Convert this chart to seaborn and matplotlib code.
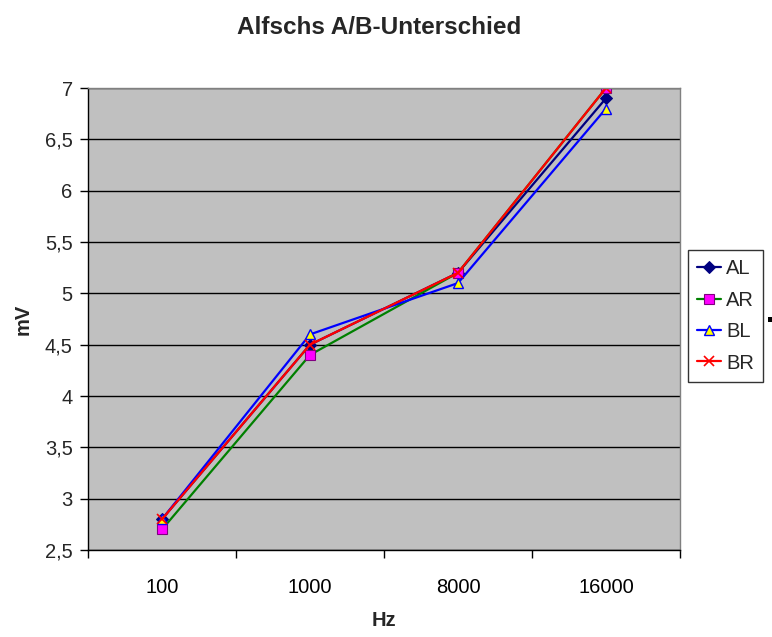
import matplotlib
matplotlib.use("Agg")
import matplotlib.pyplot as plt
import seaborn as sns
import pandas as pd
from matplotlib.patches import Rectangle
from matplotlib.ticker import FixedLocator

categories = ["100", "1000", "8000", "16000"]
AL = [2.8, 4.5, 5.2, 6.9]
AR = [2.7, 4.4, 5.2, 7.0]
BL = [2.8, 4.6, 5.1, 6.8]
BR = [2.8, 4.5, 5.2, 7.0]
series_names = ["AL", "AR", "BL", "BR"]
y_ticks = [2.5, 3, 3.5, 4, 4.5, 5, 5.5, 6, 6.5, 7]

sns.set_theme(style="white")
plt.rcParams["font.family"] = ["Liberation Sans", "DejaVu Sans"]

rows = []
for name, vals in zip(series_names, [AL, AR, BL, BR]):
    for c, v in zip(categories, vals):
        rows.append({"Hz": c, "mV": v, "series": name})
df = pd.DataFrame(rows)

styles = {
    "AL": dict(color="#000080", marker="D", markerfacecolor="#000080", markeredgecolor="#000080", markersize=6),
    "AR": dict(color="#008000", marker="s", markerfacecolor="#FF00FF", markeredgecolor="#800080", markersize=7, markeredgewidth=0.8),
    "BL": dict(color="#0000FF", marker="^", markerfacecolor="#FFFF00", markeredgecolor="#0000FF", markersize=7.5, markeredgewidth=1.0),
    "BR": dict(color="#FF0000", marker="x", markeredgecolor="#FF0000", markersize=7, markeredgewidth=1.2),
}

fig = plt.figure(figsize=(7.72, 6.37), dpi=100)
fig.patch.set_facecolor("white")
ax = fig.add_axes([88/772, 87/637, 592/772, 462/637])
ax.set_facecolor("#C0C0C0")

for name in series_names:
    sub = df[df["series"] == name]
    sns.lineplot(data=sub, x="Hz", y="mV", ax=ax, sort=False, linewidth=1.6,
                 label=name, **styles[name])

ax.set_xlim(-0.5, 3.5)
ax.set_ylim(2.5, 7)
ax.set_yticks(y_ticks)
ax.set_yticklabels([("%g" % t).replace(".", ",") for t in y_ticks], fontsize=14.5)
ax.set_xticks(range(len(categories)))
ax.set_xticklabels(categories, fontsize=14.5)
ax.xaxis.set_minor_locator(FixedLocator([-0.5, 0.5, 1.5, 2.5, 3.5]))
ax.tick_params(axis="x", which="major", length=0, pad=20, colors="black")
ax.tick_params(axis="x", which="minor", length=6, width=1, color="black", direction="out", bottom=True)
ax.tick_params(axis="y", which="major", length=6, width=1, color="black", direction="out", left=True, pad=5)
ax.grid(False)
for t in y_ticks:
    ax.axhline(t, color="black", linewidth=1, zorder=0.5)

ax.spines["left"].set_color("black")
ax.spines["bottom"].set_color("black")
ax.spines["top"].set_color("#808080")
ax.spines["right"].set_color("#808080")
for s in ax.spines.values():
    s.set_linewidth(1)

ax.set_xlabel("Hz", fontsize=14.5, fontweight="bold", labelpad=10)
ax.set_ylabel("mV", fontsize=14.5, fontweight="bold", labelpad=9)
fig.suptitle("Alfschs A/B-Unterschied", fontsize=17.5, fontweight="bold", x=379/772, y=1 - 16/637, va="top")

leg = ax.legend(loc="upper left", bbox_to_anchor=(688/772, 1 - 250/637), bbox_transform=fig.transFigure,
                frameon=True, fancybox=False, fontsize=14.5, handlelength=1.2, handletextpad=0.25,
                borderpad=0.45, labelspacing=0.62, borderaxespad=0)
leg.get_frame().set_edgecolor("black")
leg.get_frame().set_facecolor("white")
leg.get_frame().set_linewidth(1)

fig.patches.append(Rectangle((768/772, 1 - 322/637), 4/772, 5/637, transform=fig.transFigure,
                             facecolor="black", edgecolor="none", zorder=10))

fig.savefig("out.png", dpi=100)
